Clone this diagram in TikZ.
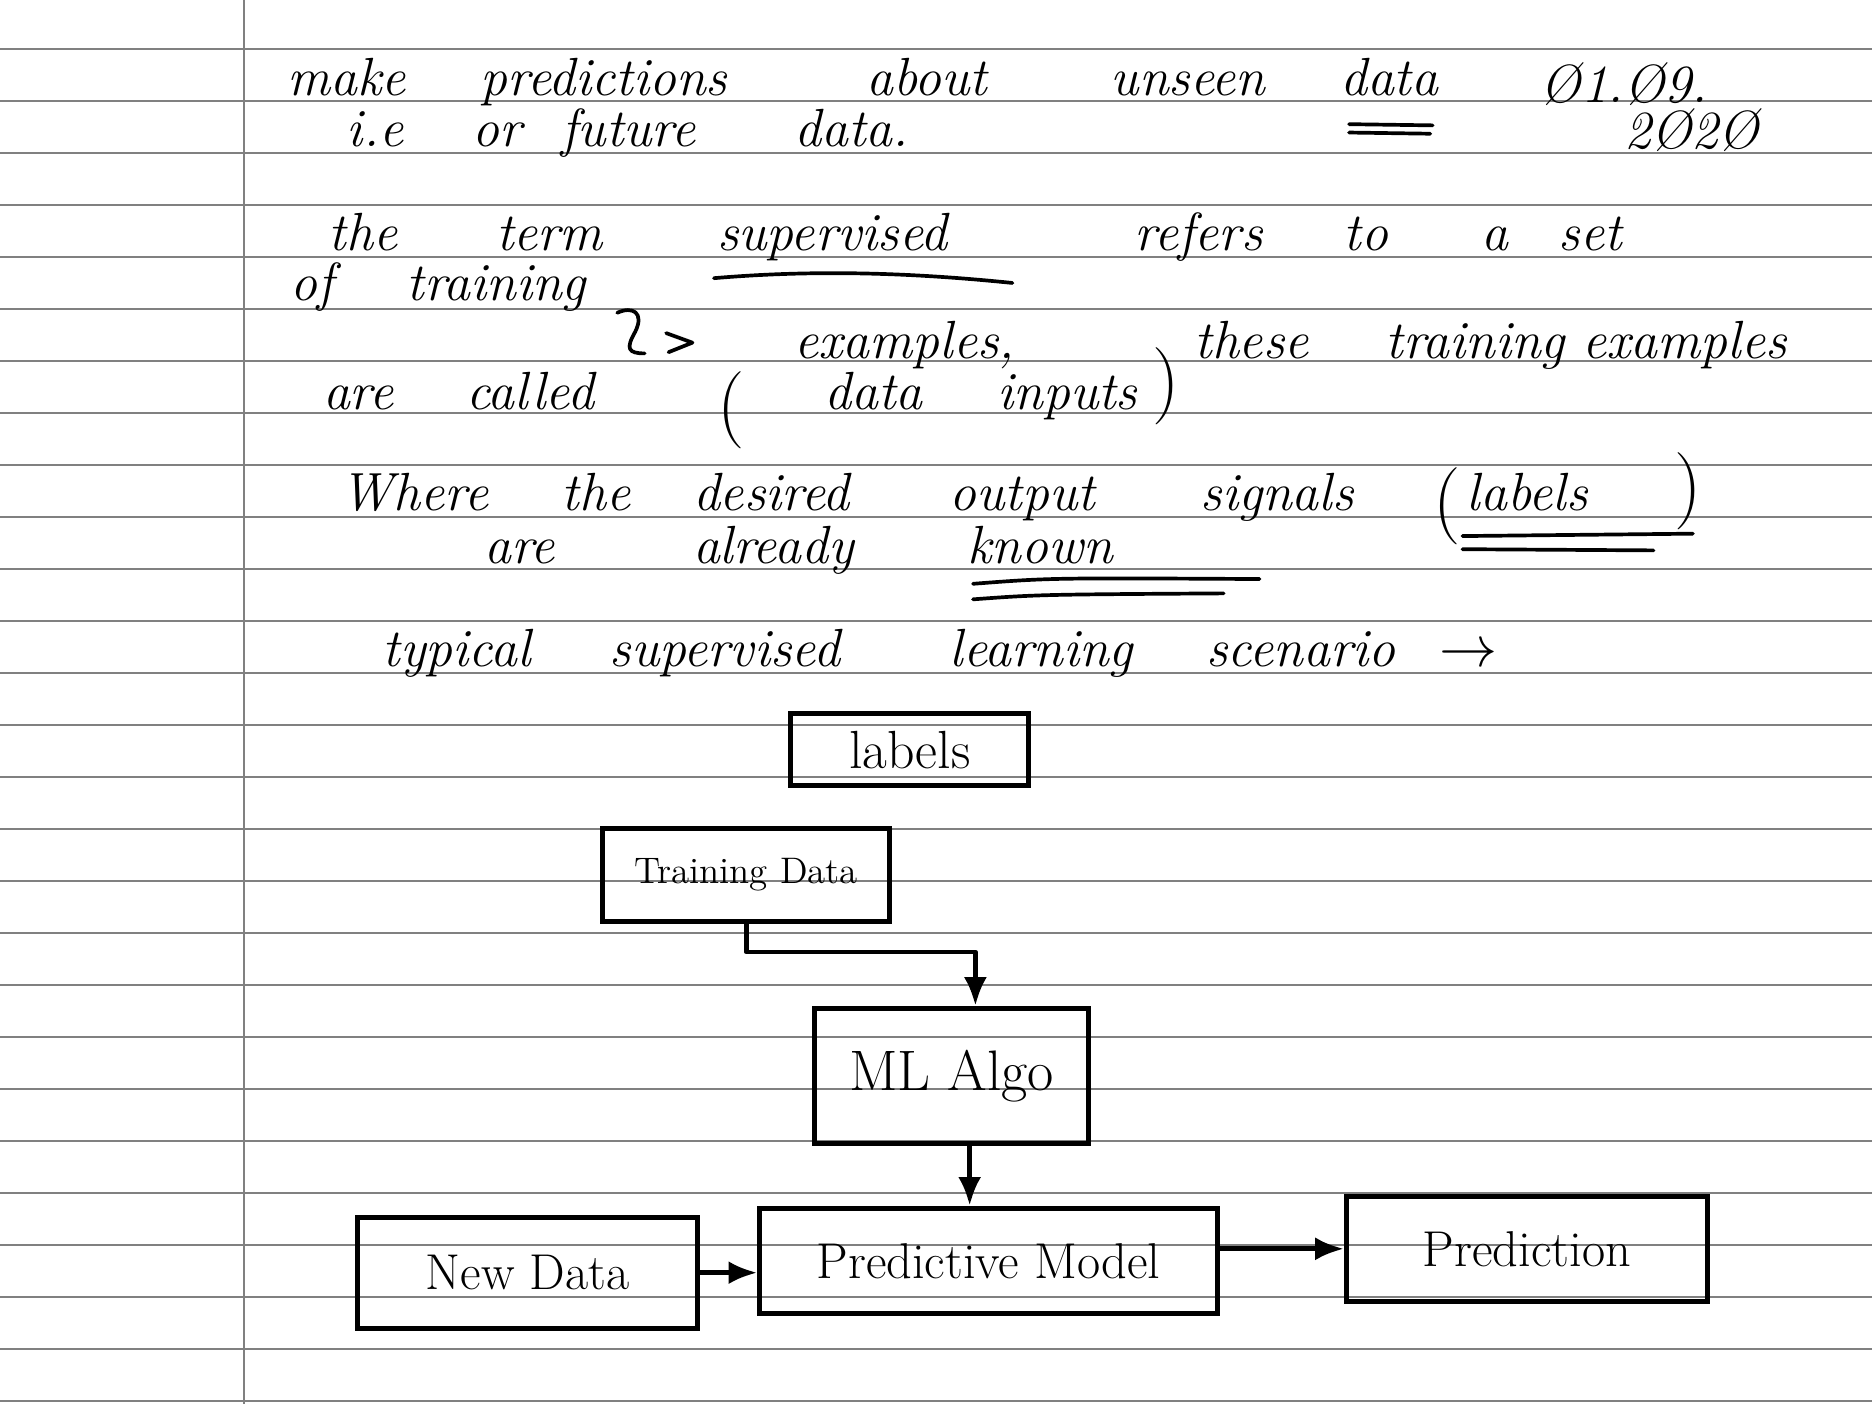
\documentclass[tikz,border=0pt]{standalone}
\usepackage{tikz}
\usetikzlibrary{arrows.meta,calc}

\tikzset{
  rule/.style={black!50,line width=0.5pt},
  pen/.style={line width=1.1pt,line cap=round,line join=round},
  hand/.style={font=\fontsize{16}{16}\selectfont\itshape,anchor=base west,inner sep=0pt},
  paren/.style={font=\fontsize{23}{23}\selectfont,anchor=base west,inner sep=0pt},
  box/.style={draw,line width=1.5pt,inner sep=0pt},
  flow/.style={pen,line width=1.4pt,-{Latex[length=3mm,width=2.4mm]}}
}

\begin{document}
\begin{tikzpicture}[x=0.0125cm,y=-0.0125cm]
\useasboundingbox (0,0) rectangle (1568,1176);
\fill[white] (0,0) rectangle (1568,1176);
% ruled paper
\foreach \k in {0,...,26}
  \draw[rule] (0,{41.3+43.55*\k}) -- (1568,{41.3+43.55*\k});
\draw[rule] (204.4,0) -- (204.4,1176);

% notes
\path (240,80) node[hand](make){make} (402,80) node[hand](predictions){predictions}
  (725,80) node[hand](about){about} (930,80) node[hand](unseen){unseen}
  (1122,80) node[hand](data1){data} (1290,86) node[hand](date){\O1.\O9.};
\draw[pen] (1130,104) -- (1200,105);
\draw[pen] (1130,111) -- (1198,112);
\path (290,123) node[hand](ie){i.e} (395,123) node[hand](or){or}
  (470,123) node[hand](future){future} (665,123) node[hand](data2){data.}
  (1360,124) node[hand](year){2\O2\O};

\path (275,210) node[hand](the){the} (415,210) node[hand](term){term}
  (600,210) node[hand](supervised){supervised} (950,210) node[hand](refers){refers}
  (1125,210) node[hand](to){to} (1240,210) node[hand](a){a} (1305,210) node[hand](set){set};
\draw[pen] (598,233) .. controls (680,226) and (760,228) .. (848,237);

\path (243,252) node[hand](of){of} (340,252) node[hand](training1){training};
\draw[pen] (517,262) .. controls (530,256) and (540,262) .. (532,278)
  .. controls (524,292) and (526,296) .. (540,296);
\draw[pen] (558,279) -- (580,287) -- (560,295);
\path (665,300) node[hand](examples1){examples,} (1000,300) node[hand](these){these}
  (1160,300) node[hand](training2){training} (1325,300) node[hand](examples2){examples};

\path (270,343) node[hand](are1){are} (390,343) node[hand](called){called}
  (600,360) node[paren](lp1){(} (690,343) node[hand](data3){data}
  (835,343) node[hand](inputs){inputs} (965,340) node[paren](rp1){)};

\path (285,428) node[hand](where){Where} (470,428) node[hand](the2){the}
  (580,428) node[hand](desired){desired} (795,428) node[hand](output){output}
  (1005,428) node[hand](signals){signals} (1200,440) node[paren](lp2){(}
  (1228,428) node[hand](labels1){labels} (1402,428) node[paren](rp2){)};
\draw[pen] (1225,449) -- (1418,447);
\draw[pen] (1225,460) -- (1385,461);
\path (405,472) node[hand](are2){are} (580,472) node[hand](already){already}
  (810,472) node[hand](known){known};
\draw[pen] (815,489) .. controls (880,484) .. (1055,485);
\draw[pen] (815,502) .. controls (870,498) .. (1025,497);

\path (320,558) node[hand](typical){typical} (510,558) node[hand](supervised2){supervised}
  (795,558) node[hand](learning){learning} (1010,558) node[hand](scenario){scenario}
  (1205,558) node[hand](to2){$\rightarrow$};

% scenario
\node[box,minimum width=2.49cm,minimum height=0.75cm,font=\fontsize{16}{16}\selectfont] (lbl) at (762,628) {labels};
\node[box,minimum width=3cm,minimum height=0.98cm,font=\fontsize{11}{11}\selectfont] (td) at (625,733) {Training Data};
\node[box,minimum width=2.86cm,minimum height=1.41cm,font=\fontsize{17}{17}\selectfont] (ml) at (797,901) {ML Algo};
\node[box,minimum width=3.56cm,minimum height=1.16cm,font=\fontsize{15}{15}\selectfont] (nd) at (442,1066) {New Data};
\node[box,minimum width=4.79cm,minimum height=1.1cm,font=\fontsize{15}{15}\selectfont] (pm) at (828,1056) {Predictive Model};
\node[box,minimum width=3.78cm,minimum height=1.1cm,font=\fontsize{15}{15}\selectfont] (pr) at (1279,1046) {Prediction};

\draw[flow] (td.south) -- ++(0,23) -| ([xshift=0.25cm]ml.north);
\draw[flow] ([xshift=0.19cm]ml.south) -- ([xshift=0.19cm]ml.south |- pm.north);
\draw[flow] (nd.east) -- (nd.east -| pm.west);
\draw[flow] (pr.west -| pm.east) -- (pr.west);
\end{tikzpicture}
\end{document}
